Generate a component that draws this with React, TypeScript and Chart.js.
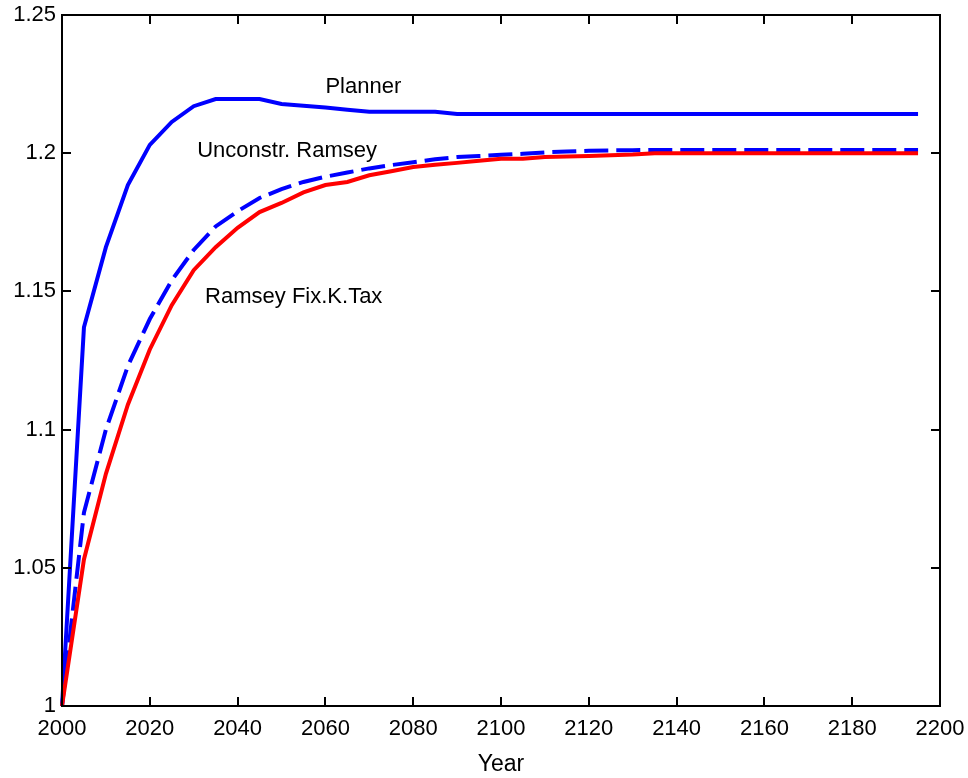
import React, { useEffect, useRef } from "react";
import { Chart, registerables } from "chart.js";

Chart.register(...registerables);

const years = [
  2000, 2005, 2010, 2015, 2020, 2025, 2030, 2035, 2040, 2045,
  2050, 2055, 2060, 2065, 2070, 2075, 2080, 2085, 2090, 2095,
  2100, 2105, 2110, 2115, 2120, 2125, 2130, 2135, 2140, 2145,
  2150, 2155, 2160, 2165, 2170, 2175, 2180, 2185, 2190, 2195,
];

const planner = [
  1.0, 1.137, 1.166, 1.1885, 1.203, 1.2113, 1.217, 1.2196, 1.2196, 1.2196,
  1.2178, 1.2172, 1.2165, 1.2157, 1.215, 1.215, 1.215, 1.215, 1.2142, 1.2142,
  1.2142, 1.2142, 1.2142, 1.2142, 1.2142, 1.2142, 1.2142, 1.2142, 1.2142, 1.2142,
  1.2142, 1.2142, 1.2142, 1.2142, 1.2142, 1.2142, 1.2142, 1.2142, 1.2142, 1.2142,
];

const unconstrRamsey = [
  1.0, 1.07, 1.1, 1.123, 1.14, 1.154, 1.165, 1.1735, 1.179, 1.1838,
  1.187, 1.1896, 1.1915, 1.193, 1.1945, 1.1957, 1.1967, 1.1978, 1.1986, 1.199,
  1.1994, 1.1998, 1.2003, 1.2006, 1.2009, 1.201, 1.2011, 1.2012, 1.2012, 1.2012,
  1.2012, 1.2012, 1.2012, 1.2012, 1.2012, 1.2012, 1.2012, 1.2012, 1.2012, 1.2012,
];

const ramseyFixKTax = [
  1.0, 1.053, 1.084, 1.109, 1.129, 1.145, 1.1577, 1.166, 1.173, 1.1787,
  1.182, 1.1858, 1.1885, 1.1896, 1.192, 1.1935, 1.195, 1.1958, 1.1965, 1.1973,
  1.198, 1.198, 1.1986, 1.1988, 1.199, 1.1993, 1.1995, 1.2, 1.2, 1.2,
  1.2, 1.2, 1.2, 1.2, 1.2, 1.2, 1.2, 1.2, 1.2, 1.2,
];

const xTicks = [2000, 2020, 2040, 2060, 2080, 2100, 2120, 2140, 2160, 2180, 2200];
const yTicks = [1, 1.05, 1.1, 1.15, 1.2, 1.25];

const textLabels = [
  { text: "Planner", x: 2060, y: 1.2218 },
  { text: "Unconstr. Ramsey", x: 2030.8, y: 1.1986 },
  { text: "Ramsey Fix.K.Tax", x: 2032.6, y: 1.1458 },
];

const FONT = "'Liberation Sans', Arial, Helvetica, sans-serif";

const boxPlugin = {
  id: "matlabBox",
  afterDatasetsDraw(chart: any) {
    const { ctx, chartArea, scales } = chart;
    const { left, right, top, bottom } = chartArea;
    const xs = scales.x;
    const ys = scales.y;
    ctx.save();
    ctx.strokeStyle = "#000";
    ctx.lineWidth = 2;
    ctx.strokeRect(left, top, right - left, bottom - top);
    const len = 9;
    ctx.beginPath();
    for (const v of xTicks) {
      const px = Math.round(xs.getPixelForValue(v));
      ctx.moveTo(px, bottom);
      ctx.lineTo(px, bottom - len);
      ctx.moveTo(px, top);
      ctx.lineTo(px, top + len);
    }
    for (const v of yTicks) {
      const py = Math.round(ys.getPixelForValue(v));
      ctx.moveTo(left, py);
      ctx.lineTo(left + len, py);
      ctx.moveTo(right, py);
      ctx.lineTo(right - len, py);
    }
    ctx.stroke();
    ctx.fillStyle = "#000";
    ctx.font = `22px ${FONT}`;
    ctx.textAlign = "left";
    ctx.textBaseline = "alphabetic";
    for (const l of textLabels) {
      ctx.fillText(l.text, xs.getPixelForValue(l.x), ys.getPixelForValue(l.y));
    }
    ctx.restore();
  },
};

const zeroPad = (s: any) => {
  s.paddingLeft = 0;
  s.paddingRight = 0;
  s.paddingTop = 0;
  s.paddingBottom = 0;
};

export default function App() {
  const ref = useRef<HTMLCanvasElement | null>(null);

  useEffect(() => {
    if (!ref.current) return;
    const mk = (arr: number[]) => years.map((yr, i) => ({ x: yr, y: arr[i] }));
    const chart = new Chart(ref.current, {
      type: "line",
      data: {
        datasets: [
          {
            label: "Ramsey Fix.K.Tax",
            data: mk(ramseyFixKTax),
            borderColor: "#ff0000",
            borderWidth: 4,
            pointRadius: 0,
            tension: 0,
            fill: false,
            clip: false as any,
          },
          {
            label: "Unconstr. Ramsey",
            data: mk(unconstrRamsey),
            borderColor: "#0000ff",
            borderWidth: 4,
            borderDash: [24, 8],
            pointRadius: 0,
            tension: 0,
            fill: false,
            clip: false as any,
          },
          {
            label: "Planner",
            data: mk(planner),
            borderColor: "#0000ff",
            borderWidth: 4,
            pointRadius: 0,
            tension: 0,
            fill: false,
            clip: false as any,
          },
        ],
      },
      options: {
        animation: false,
        responsive: false,
        devicePixelRatio: 1,
        layout: { padding: { left: 0, right: 28, top: 15, bottom: 0 } },
        plugins: {
          legend: { display: false },
          tooltip: { enabled: false },
        },
        scales: {
          x: {
            type: "linear",
            min: 2000,
            max: 2200,
            afterBuildTicks: (s: any) => {
              s.ticks = xTicks.map((v) => ({ value: v }));
            },
            afterFit: (s: any) => {
              s.height = 72;
              zeroPad(s);
            },
            grid: { display: false, drawTicks: false },
            border: { display: false },
            ticks: {
              color: "#000",
              padding: 10,
              maxRotation: 0,
              autoSkip: false,
              font: { family: FONT, size: 22 },
              callback: (v: any) => String(v),
            },
            title: {
              display: true,
              text: "Year",
              color: "#000",
              font: { family: FONT, size: 23 },
              padding: { top: 0, bottom: 0 },
            },
          },
          y: {
            type: "linear",
            min: 1,
            max: 1.25,
            afterBuildTicks: (s: any) => {
              s.ticks = yTicks.map((v) => ({ value: v }));
            },
            afterFit: (s: any) => {
              s.width = 62;
              zeroPad(s);
            },
            grid: { display: false, drawTicks: false },
            border: { display: false },
            ticks: {
              color: "#000",
              padding: 6,
              autoSkip: false,
              font: { family: FONT, size: 22 },
              callback: (v: any) => String(+Number(v).toFixed(2)),
            },
          },
        },
      },
      plugins: [boxPlugin],
    });
    return () => chart.destroy();
  }, []);

  return (
    <div style={{ position: "absolute", left: 0, top: 0, width: 968, height: 778, background: "#fff" }}>
      <canvas ref={ref} width={968} height={778} style={{ display: "block" }} />
    </div>
  );
}
